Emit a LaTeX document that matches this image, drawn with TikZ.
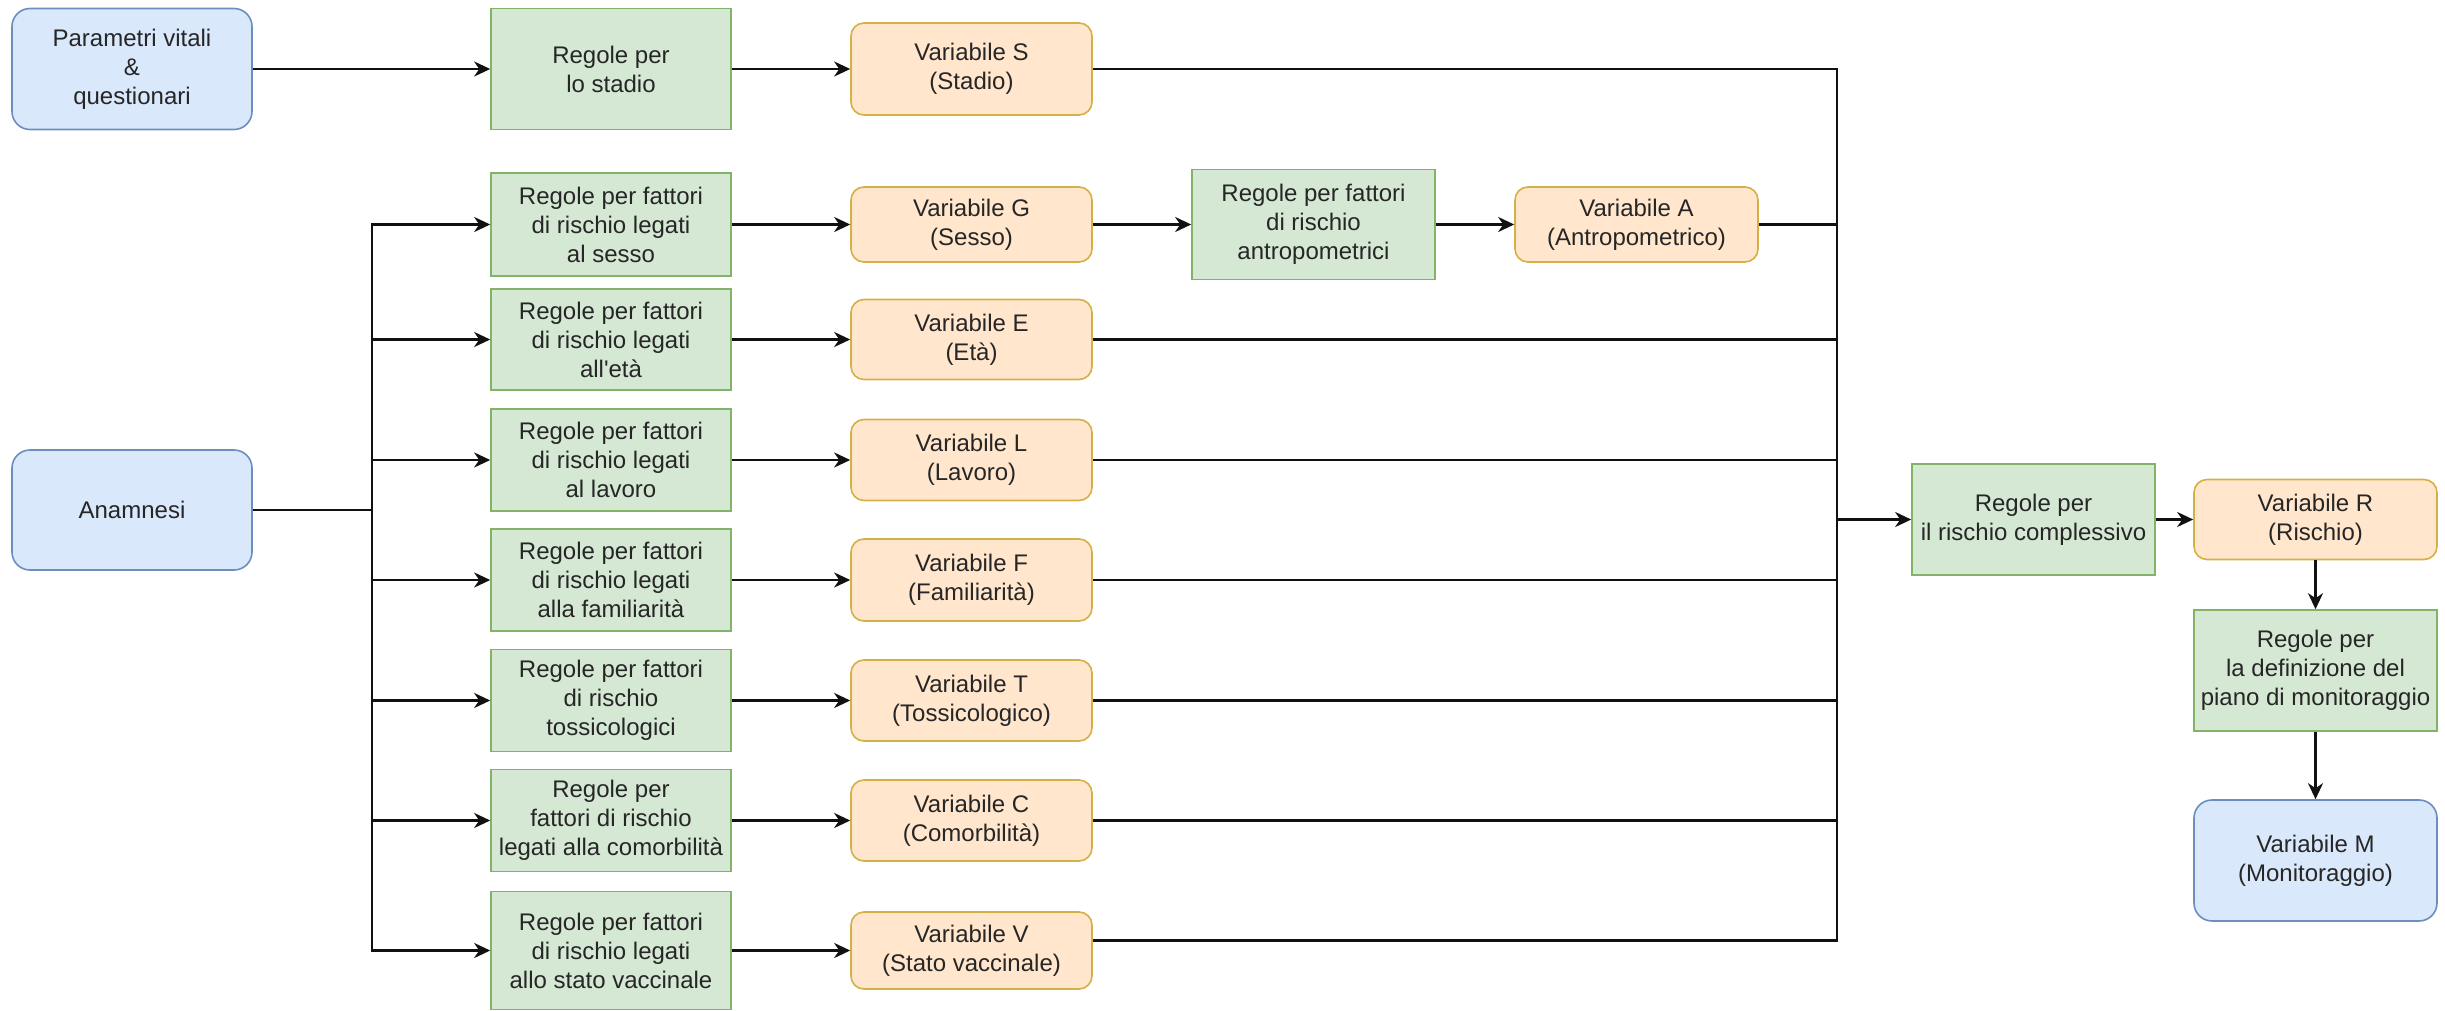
\documentclass[tikz,border=0pt]{standalone}
\usepackage{fontspec}
\setmainfont{Liberation Sans}[Ligatures=TeXOff]
\usetikzlibrary{arrows.meta,calc}

\definecolor{bfill}{HTML}{DAE8FC}
\definecolor{bdraw}{HTML}{6C8EBF}
\definecolor{gfill}{HTML}{D5E8D4}
\definecolor{gdraw}{HTML}{82B366}
\definecolor{ofill}{HTML}{FFE6CC}
\definecolor{odraw}{HTML}{D6B045}
\definecolor{txt}{HTML}{262626}
\definecolor{edge}{HTML}{111111}

\tikzset{
  base/.style={line width=1.6pt, align=center, inner sep=0pt, text=txt,
    font=\fontsize{24}{29}\selectfont},
  inbox/.style={base, fill=bfill, draw=bdraw, rounded corners=18pt,
    minimum width=240pt},
  rulebox/.style={base, fill=gfill, draw=gdraw, minimum width=240pt},
  varbox/.style={base, fill=ofill, draw=odraw, rounded corners=13pt,
    minimum width=241pt, minimum height=78pt},
  link/.style={draw=edge, line width=2.4pt},
  arr/.style={link, -{Stealth[length=16pt, width=15pt, inset=5pt]}},
}

\begin{document}
\begin{tikzpicture}[x=1pt, y=-1pt]
  \fill[white] (0,0) rectangle (2445,1011);
  \useasboundingbox (0,0) rectangle (2445,1011);

  % inputs
  \node[inbox, minimum height=121pt] (param) at (132,69) {Parametri vitali\\\&\\questionari};
  \node[inbox, minimum height=120pt] (anam) at (132,510) {Anamnesi};

  % first rule column
  \node[rulebox, minimum height=121pt] (rS) at (611,69) {Regole per\\lo stadio};
  \node[rulebox, minimum height=103pt] (rG) at (611,224.5) {Regole per fattori\\di rischio legati\\al sesso};
  \node[rulebox, minimum height=101pt] (rE) at (611,339.5) {Regole per fattori\\di rischio legati\\all'età};
  \node[rulebox, minimum height=102pt] (rL) at (611,460) {Regole per fattori\\di rischio legati\\al lavoro};
  \node[rulebox, minimum height=102pt] (rF) at (611,580) {Regole per fattori\\di rischio legati\\alla familiarità};
  \node[rulebox, minimum height=102pt] (rT) at (611,700.5) {Regole per fattori\\di rischio\\tossicologici};
  \node[rulebox, minimum height=102pt] (rC) at (611,820.5) {Regole per\\fattori di rischio\\legati alla comorbilità};
  \node[rulebox, minimum height=118pt] (rV) at (611,950.5) {Regole per fattori\\di rischio legati\\allo stato vaccinale};

  % variables
  \node[varbox, minimum height=92pt] (vS) at (971.5,69) {Variabile S\\(Stadio)};
  \node[varbox, minimum height=75pt] (vG) at (971.5,224.5) {Variabile G\\(Sesso)};
  \node[varbox, minimum height=80pt] (vE) at (971.5,339.5) {Variabile E\\(Età)};
  \node[varbox, minimum height=81pt] (vL) at (971.5,460) {Variabile L\\(Lavoro)};
  \node[varbox, minimum height=82pt] (vF) at (971.5,580) {Variabile F\\(Familiarità)};
  \node[varbox, minimum height=81pt] (vT) at (971.5,700.5) {Variabile T\\(Tossicologico)};
  \node[varbox, minimum height=81pt] (vC) at (971.5,820.5) {Variabile C\\(Comorbilità)};
  \node[varbox, minimum height=77pt] (vV) at (971.5,950.5) {Variabile V\\(Stato vaccinale)};

  % anthropometric branch
  \node[rulebox, minimum width=243pt, minimum height=110pt] (rA) at (1313.5,224.5) {Regole per fattori\\di rischio\\antropometrici};
  \node[varbox, minimum width=243pt, minimum height=75pt] (vA) at (1636.5,224.5) {Variabile A\\(Antropometrico)};

  % overall risk and monitoring
  \node[rulebox, minimum width=243pt, minimum height=111pt] (rR) at (2033.5,519.5) {Regole per\\il rischio complessivo};
  \node[varbox, minimum width=243pt, minimum height=80pt] (vR) at (2315.5,519.5) {Variabile R\\(Rischio)};
  \node[rulebox, minimum width=243pt, minimum height=121pt] (rM) at (2315.5,670.5) {Regole per\\la definizione del\\piano di monitoraggio};
  \node[inbox, minimum width=243pt, minimum height=121pt] (vM) at (2315.5,860.5) {Variabile M\\(Monitoraggio)};

  % junction points
  \coordinate (trunk) at (372,510);
  \coordinate (bus) at (1837,519.5);

  % vital signs
  \draw[arr] (param) -- (rS);

  % anamnesis fan-out
  \foreach \r in {rG,rE,rL,rF,rT,rC,rV}
    \draw[arr] (anam.east) -- (trunk) |- (\r.west);

  % rules to variables
  \foreach \a/\b in {rS/vS,rG/vG,rE/vE,rL/vL,rF/vF,rT/vT,rC/vC,rV/vV}
    \draw[arr] (\a.east) -- (\b.west);
  \draw[arr] (vG) -- (rA);
  \draw[arr] (rA) -- (vA);

  % variables into the collector
  \foreach \v in {vS,vA,vE,vL,vF,vT,vC}
    \draw[link] (\v.east) -| (bus);
  \draw[link] ([yshift=10pt]vV.east) -| (bus);
  \draw[arr] (bus) -- (rR.west);

  % final chain
  \draw[arr] (rR) -- (vR);
  \draw[arr] (vR) -- (rM);
  \draw[arr] (rM) -- (vM);
\end{tikzpicture}
\end{document}
